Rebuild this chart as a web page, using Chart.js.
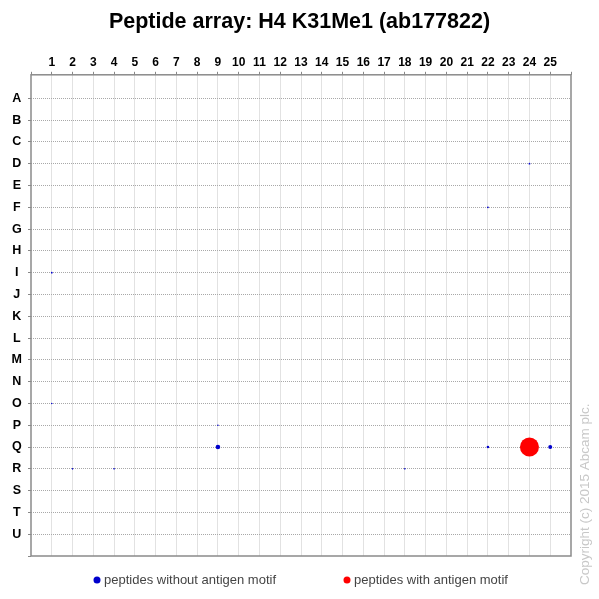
<!DOCTYPE html>
<html>
<head>
<meta charset="utf-8">
<script src="https://cdn.jsdelivr.net/npm/chart.js@4.4.0/dist/chart.umd.min.js"></script>
<style>
  html, body { margin: 0; padding: 0; background: #fff; }
  #wrap { width: 599px; height: 599px; }
</style>
</head>
<body>
<div id="wrap"><canvas id="chart"></canvas></div>
<script>
// grid labels
const colLabels = ["1","2","3","4","5","6","7","8","9","10","11","12","13","14","15","16","17","18","19","20","21","22","23","24","25"];
const rowLabels = ["A","B","C","D","E","F","G","H","I","J","K","L","M","N","O","P","Q","R","S","T","U"];

// peptides without antigen motif (column number, row letter, spot radius)
const plainCols  = [1,   1,   9,   9,   2,   4,   18,  24,  22,  22,  25];
const plainRows  = ["I", "O", "P", "Q", "R", "R", "R", "D", "F", "Q", "Q"];
const plainSizes = [0.9, 0.8, 0.8, 2.3, 0.8, 0.8, 0.8, 0.9, 0.9, 1.3, 2.0];

// peptides with antigen motif
const motifCols  = [24];
const motifRows  = ["Q"];
const motifSizes = [9.5];

const FONT = "'Liberation Sans', Arial, sans-serif";

function toPoints(cols, rows, sizes){
    return cols.map((c, i) => ({ x: c, y: rowLabels.indexOf(rows[i]) + 1, r: sizes[i] }));
}

const boxPlugin = {
    id: "plotBox",
    beforeDatasetsDraw(chart){
        const a = chart.chartArea, ctx = chart.ctx;
        ctx.save();
        ctx.strokeStyle = "#8a8a8a";
        ctx.lineWidth = 1.5;
        ctx.strokeRect(a.left, a.top, a.right - a.left, a.bottom - a.top);
        ctx.restore();
    },
    afterDraw(chart){
        const ctx = chart.ctx;
        ctx.save();
        // legend
        ctx.font = "13px " + FONT;
        ctx.textBaseline = "middle";
        const legendX = [97, 347];
        chart.data.datasets.forEach((ds, i) => {
            ctx.fillStyle = ds.backgroundColor;
            ctx.beginPath();
            ctx.arc(legendX[i], 580, 3.5, 0, Math.PI * 2);
            ctx.fill();
            ctx.fillStyle = "#444";
            ctx.textAlign = "left";
            ctx.fillText(ds.label, legendX[i] + 7, 580);
        });
        // copyright
        ctx.translate(585, 585);
        ctx.rotate(-Math.PI / 2);
        ctx.fillStyle = "#c8c8c8";
        ctx.font = "13.5px " + FONT;
        ctx.textAlign = "left";
        ctx.fillText("Copyright (c) 2015 Abcam plc.", 0, 0);
        ctx.restore();
    }
};

new Chart(document.getElementById("chart"), {
    type: "bubble",
    data: {
        datasets: [{
            label: "peptides without antigen motif",
            data: toPoints(plainCols, plainRows, plainSizes),
            backgroundColor: "#0000cc",
            borderWidth: 0
        },
        {
            label: "peptides with antigen motif",
            data: toPoints(motifCols, motifRows, motifSizes),
            backgroundColor: "#ff0000",
            borderWidth: 0
        }]
    },
    options: {
        responsive: true,
        maintainAspectRatio: false,
        animation: false,
        layout: {
            padding: { left: 0, right: 0, bottom: 43, top: 0 }
        },
        plugins: {
            title: {
                display: true,
                text: "Peptide array: H4 K31Me1 (ab177822)",
                color: "#000",
                font: { family: FONT, size: 21.5, weight: "bold" },
                padding: { top: 9, bottom: 7 }
            },
            legend: { display: false },
            tooltip: { enabled: false }
        },
        scales: {
            x: {
                type: "linear",
                position: "top",
                min: 0,
                max: 26,
                afterFit(scale){ scale.height = 33; },
                ticks: {
                    stepSize: 1,
                    autoSkip: false,
                    maxRotation: 0,
                    padding: 2,
                    color: "#000",
                    font: { family: FONT, size: 12, weight: "bold" },
                    callback: (v) => colLabels[v - 1] || ""
                },
                grid: {
                    color: (c) => (c.tick && (c.tick.value <= 0 || c.tick.value >= 26)) ? "rgba(0,0,0,0)" : "#e2e2e2",
                    lineWidth: 1,
                    drawTicks: true,
                    tickLength: 3,
                    tickColor: "#888"
                },
                border: { display: false }
            },
            y: {
                type: "linear",
                min: -0.08,
                max: 22,
                reverse: true,
                afterFit(scale){ scale.width = 31; },
                afterBuildTicks(scale){
                    scale.ticks = scale.ticks.filter((t) => Number.isInteger(t.value));
                },
                ticks: {
                    stepSize: 1,
                    autoSkip: false,
                    padding: 6,
                    crossAlign: "center",
                    color: "#000",
                    font: { family: FONT, size: 12.5, weight: "bold" },
                    callback: (v) => rowLabels[v - 1] || ""
                },
                grid: {
                    color: (c) => (c.tick && (c.tick.value <= 0 || c.tick.value >= 22)) ? "rgba(0,0,0,0)" : "#a8a8a8",
                    lineWidth: 1,
                    drawTicks: true,
                    tickLength: 3,
                    tickColor: "#888",
                    tickBorderDash: []
                },
                border: { display: false, dash: [1, 1] }
            },
            // empty right-hand strip that keeps room for the copyright note
            yRight: {
                type: "linear",
                position: "right",
                display: true,
                afterFit(scale){ scale.width = 28; },
                ticks: { display: false },
                grid: { display: false },
                border: { display: false }
            }
        }
    },
    plugins: [boxPlugin]
});
</script>
</body>
</html>
